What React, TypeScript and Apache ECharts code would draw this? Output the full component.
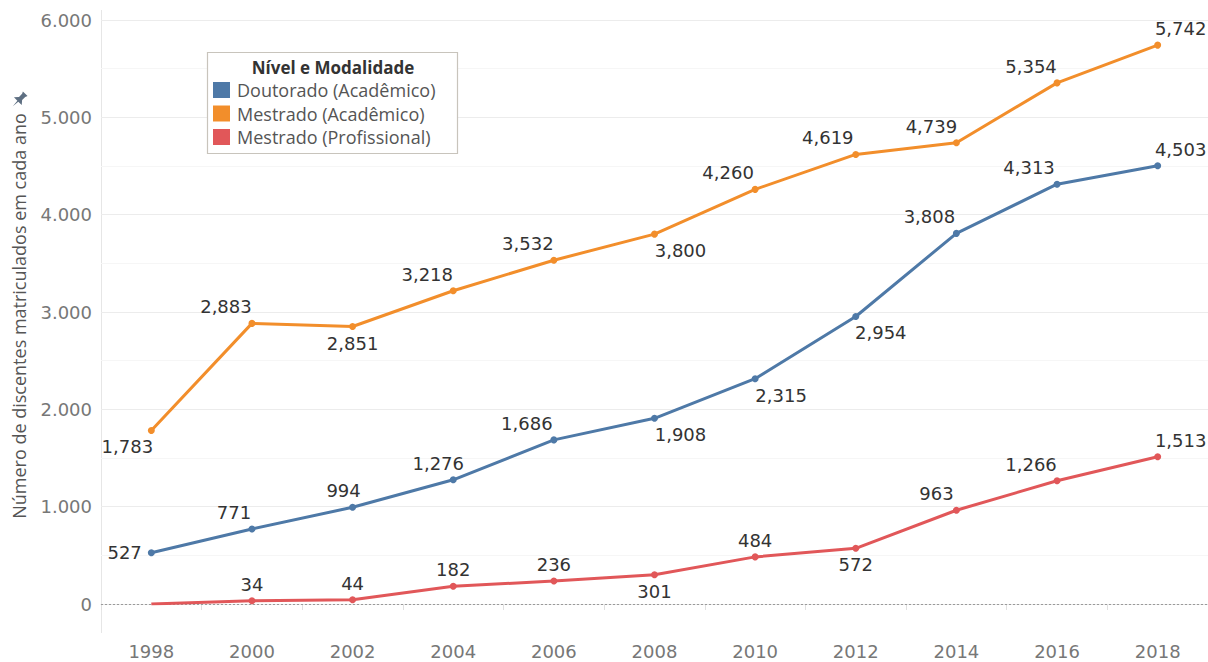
import React, { useEffect, useRef } from "react";
import * as echarts from "echarts";

const years = ["1998", "2000", "2002", "2004", "2006", "2008", "2010", "2012", "2014", "2016", "2018"];
const doutorado = [527, 771, 994, 1276, 1686, 1908, 2315, 2954, 3808, 4313, 4503];
const mestradoAcademico = [1783, 2883, 2851, 3218, 3532, 3800, 4260, 4619, 4739, 5354, 5742];
const mestradoProfissional = [0, 34, 44, 182, 236, 301, 484, 572, 963, 1266, 1513];

const seriesNames = ["Doutorado (Acadêmico)", "Mestrado (Acadêmico)", "Mestrado (Profissional)"];
const seriesColors = ["#4e79a7", "#f28e2b", "#e15759"];
const yTicks = [0, 1000, 2000, 3000, 4000, 5000, 6000];

// label placement (position relative to point, horizontal shift)
const doutoradoLabelPos = ["left", "top", "top", "top", "top", "bottom", "bottom", "bottom", "top", "top", "top"];
const doutoradoLabelDx = [0, -18, -9, -15, -27, 26, 26, 25, -27, -28, 23];
const academicoLabelPos = ["bottom", "top", "bottom", "top", "top", "bottom", "top", "top", "top", "top", "top"];
const academicoLabelDx = [-24, -26, 0, -26, -26, 26, -27, -28, -25, -26, 23];
const profissionalLabelPos = ["none", "top", "top", "top", "top", "bottom", "top", "bottom", "top", "top", "top"];
const profissionalLabelDx = [0, 0, 0, 0, 0, 0, 0, 0, -20, -26, 23];

const FONT = "'Open Sans', 'Noto Sans', sans-serif";
const NUMFONT = "'DejaVu Sans', 'Open Sans', sans-serif";

const fmtComma = (v: number) => String(v).replace(/\B(?=(\d{3})+(?!\d))/g, ",");
const fmtDot = (v: number) => String(v).replace(/\B(?=(\d{3})+(?!\d))/g, ".");

let pinRegistered = false;
function registerPin() {
  if (pinRegistered) return;
  const d =
    "M5 0 L11 0 L10 2 L10 6 L13 9.5 L8.6 9.5 L8 16 L7.4 9.5 L3 9.5 L6 6 L6 2 Z";
  echarts.graphic.registerShape("pin", echarts.graphic.extendPath(d, {}) as any);
  pinRegistered = true;
}

function buildData(values: number[], pos: string[], dx: number[]) {
  return values.map((v, i) => {
    if (pos[i] === "none") {
      return { value: v, symbol: "none", label: { show: false } };
    }
    return {
      value: v,
      label: {
        show: true,
        position: pos[i],
        distance: pos[i] === "left" ? 6 : 4,
        offset: [dx[i], 0],
      },
    };
  });
}

export default function App() {
  const ref = useRef<HTMLDivElement>(null);

  useEffect(() => {
    document.body.style.margin = "0";
    if (!ref.current) return;
    registerPin();
    const chart = echarts.init(ref.current, undefined, { renderer: "svg" });

    const allValues = [doutorado, mestradoAcademico, mestradoProfissional];
    const allPos = [doutoradoLabelPos, academicoLabelPos, profissionalLabelPos];
    const allDx = [doutoradoLabelDx, academicoLabelDx, profissionalLabelDx];

    const series: any[] = allValues.map((vals, idx) => ({
      name: seriesNames[idx],
      type: "line",
      data: buildData(vals, allPos[idx], allDx[idx]),
      symbol: "circle",
      symbolSize: 7,
      lineStyle: { width: 3, color: seriesColors[idx] },
      itemStyle: { color: seriesColors[idx] },
      label: {
        show: true,
        formatter: (p: any) => fmtComma(p.value),
        color: "#333",
        fontSize: 18,
        fontFamily: NUMFONT,
      },
      z: 3 + (2 - idx),
      emphasis: { disabled: true },
    }));

    series[2].markLine = {
      silent: true,
      symbol: "none",
      label: { show: false },
      lineStyle: { type: [2, 2], color: "#9a9a9a", width: 1 },
      data: [{ yAxis: 0 }],
      z: 1,
    };

    chart.setOption({
      animation: false,
      color: seriesColors,
      grid: { left: 101, right: 0, top: 20, bottom: 58, containLabel: false },
      legend: {
        orient: "vertical",
        left: 213,
        top: 81,
        z: 50,
        itemWidth: 17,
        itemHeight: 16,
        itemGap: 5.5,
        padding: 0,
        icon: "rect",
        selectedMode: false,
        data: seriesNames,
        textStyle: {
          fontSize: 18,
          lineHeight: 16,
          color: "#555",
          fontFamily: FONT,
          padding: [0, 0, 0, 2],
        },
      },
      xAxis: {
        type: "category",
        data: years,
        boundaryGap: true,
        offset: 29,
        axisLine: { show: true, lineStyle: { color: "#e6e6e6", width: 1 } },
        axisTick: { show: true, length: 6, lineStyle: { color: "#e0e0e0" } },
        axisLabel: { color: "#777", fontSize: 18, fontFamily: NUMFONT, margin: 9 },
        splitLine: { show: false },
      },
      yAxis: {
        type: "value",
        min: 0,
        max: 6000,
        interval: 1000,
        axisLine: { show: false },
        axisTick: { show: false },
        axisLabel: {
          color: "#777",
          fontSize: 18,
          fontFamily: NUMFONT,
          margin: 9,
          formatter: (v: number) => (yTicks.includes(v) ? fmtDot(v) : ""),
        },
        splitLine: { show: true, lineStyle: { color: "#ececec", width: 1 } },
        minorTick: { show: false, splitNumber: 2 },
        minorSplitLine: { show: true, lineStyle: { color: "#f6f6f6", width: 1 } },
      },
      graphic: [
        {
          type: "line",
          shape: { x1: 101.5, y1: 10, x2: 101.5, y2: 633 },
          style: { stroke: "#e6e6e6", lineWidth: 1 },
          z: 0,
        },
        {
          type: "rect",
          shape: { x: 207.5, y: 52.5, width: 250, height: 101 },
          style: { fill: "#fff", stroke: "#c8c4bc", lineWidth: 1.2 },
          z: 1,
        },
        {
          type: "text",
          x: 333,
          y: 67,
          style: {
            text: "Nível e Modalidade",
            fontSize: 17,
            fontWeight: "bold",
            fill: "#333",
            fontFamily: FONT,
            align: "center",
            verticalAlign: "middle",
          },
          z: 2,
        },
        {
          type: "text",
          x: 19,
          y: 316,
          rotation: Math.PI / 2,
          style: {
            text: "Número de discentes matriculados em cada ano",
            fontSize: 18,
            fill: "#555",
            fontFamily: FONT,
            align: "center",
            verticalAlign: "middle",
          },
        },
        {
          type: "pin",
          x: 11,
          y: 92,
          scaleX: 1.1,
          scaleY: 1.1,
          rotation: -Math.PI / 4,
          originX: 8,
          originY: 8,
          style: { fill: "#5e6f82" },
        },
      ],
      series,
    });

    return () => {
      chart.dispose();
    };
  }, []);

  return <div ref={ref} style={{ width: 1208, height: 662 }} />;
}
